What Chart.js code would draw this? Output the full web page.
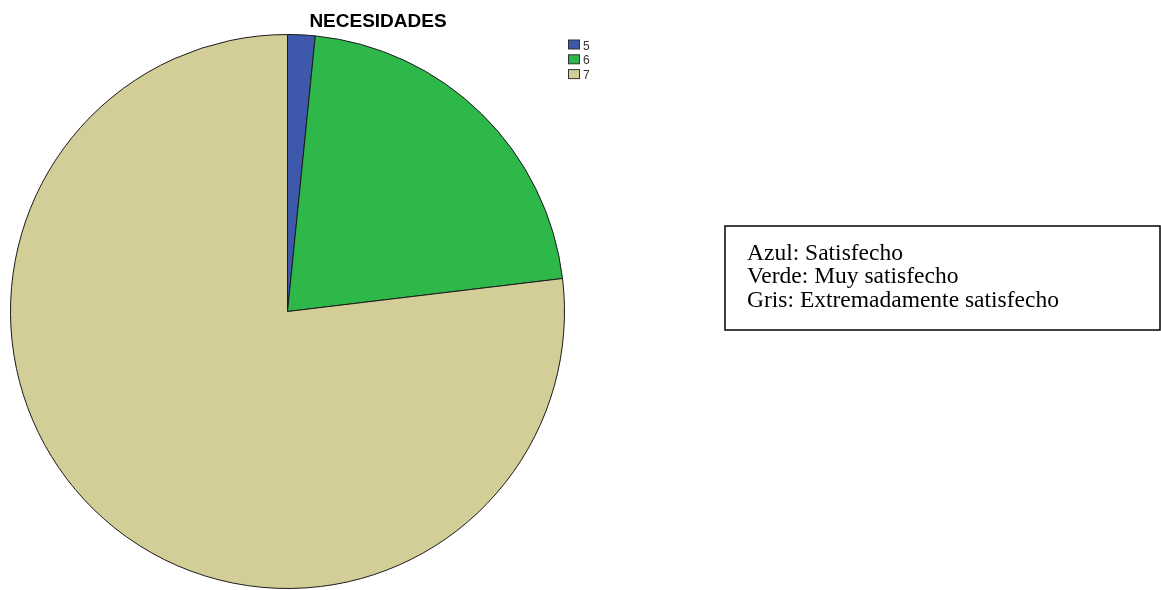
<!DOCTYPE html>
<html>
<head>
<meta charset="utf-8">
<script src="https://cdn.jsdelivr.net/npm/chart.js@4.4.1/dist/chart.umd.min.js"></script>
<style>
  html, body { margin: 0; padding: 0; background: #ffffff; }
  #wrap { width: 1161px; height: 590px; position: relative; }
</style>
</head>
<body>
<div id="wrap"><canvas id="c" width="1161" height="590"></canvas></div>
<script>
// Categories (satisfaction levels) and their percentage shares
const categories = ['5', '6', '7'];
const shares = [1.6, 21.5, 76.9];
const sliceColors = ['#3E58AC', '#2EB84A', '#D3CE98'];
const chartTitle = 'NECESIDADES';
const noteLines = ['Azul: Satisfecho', 'Verde: Muy satisfecho', 'Gris: Extremadamente satisfecho'];

// Draws the title, the small key and the explanatory note box
const decorations = {
  id: 'decorations',
  afterDraw(chart) {
    const ctx = chart.ctx;
    ctx.save();

    // Title
    ctx.fillStyle = '#000';
    ctx.font = 'bold 19px "Liberation Sans", Arial, sans-serif';
    ctx.textAlign = 'center';
    ctx.textBaseline = 'alphabetic';
    ctx.fillText(chartTitle, 378, 27);

    // Key
    ctx.font = '12px "Liberation Sans", Arial, sans-serif';
    ctx.textAlign = 'left';
    categories.forEach((cat, i) => {
      const y = 39.5 + i * 14.8;
      ctx.fillStyle = sliceColors[i];
      ctx.fillRect(568.5, y + 0.5, 11, 9);
      ctx.strokeStyle = '#333';
      ctx.lineWidth = 1;
      ctx.strokeRect(568.5, y + 0.5, 11, 9);
      ctx.fillStyle = '#333';
      ctx.fillText(cat, 583, y + 10);
    });

    // Note box
    ctx.strokeStyle = '#000';
    ctx.lineWidth = 1.5;
    ctx.strokeRect(725, 226, 435, 104);
    ctx.fillStyle = '#000';
    ctx.font = '23.5px "Liberation Serif", "Times New Roman", serif';
    noteLines.forEach((line, i) => {
      ctx.fillText(line, 747, 260 + i * 23.4);
    });

    ctx.restore();
  }
};

new Chart(document.getElementById('c'), {
  type: 'pie',
  data: {
    labels: categories,
    datasets: [{
      data: shares,
      backgroundColor: sliceColors,
      borderColor: '#1a1a1a',
      borderWidth: 1
    }]
  },
  options: {
    responsive: false,
    animation: false,
    layout: { padding: { left: 10, right: 596, top: 34, bottom: 1 } },
    plugins: {
      legend: { display: false },
      title: { display: false },
      tooltip: { enabled: false }
    }
  },
  plugins: [decorations]
});
</script>
</body>
</html>
